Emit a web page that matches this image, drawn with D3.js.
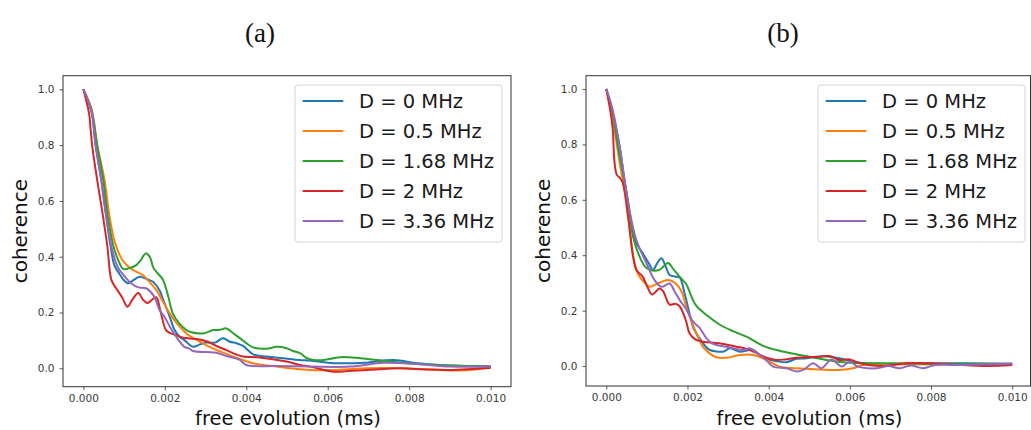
<!DOCTYPE html>
<html>
<head>
<meta charset="utf-8">
<script src="https://cdn.jsdelivr.net/npm/d3@7/dist/d3.min.js"></script>
<style>
  html, body { margin: 0; padding: 0; background: #fff; }
  svg { display: block; }
</style>
</head>
<body>
<svg id="chart" width="1031" height="430"></svg>
<script>
// ---- data (x in units of 0.001 ms) ----
const seriesLabels = ["D = 0 MHz", "D = 0.5 MHz", "D = 1.68 MHz", "D = 2 MHz", "D = 3.36 MHz"];
const seriesColors = ["#1f77b4", "#ff7f0e", "#2ca02c", "#d62728", "#9467bd"];
const panelTitles = ["(a)", "(b)"];
const xTicks = [0, 2, 4, 6, 8, 10];
const xTickLabels = ["0.000", "0.002", "0.004", "0.006", "0.008", "0.010"];
const yTicks = [0, 0.2, 0.4, 0.6, 0.8, 1.0];
const yTickLabels = ["0.0", "0.2", "0.4", "0.6", "0.8", "1.0"];

const aBlue = [[0,1],[0.2,0.92],[0.3,0.80],[0.44,0.675],[0.55,0.556],[0.67,0.436],[0.76,0.37],[0.88,0.34],[1.0,0.315],[1.1,0.305],[1.22,0.315],[1.38,0.328],[1.55,0.32],[1.71,0.31],[1.87,0.28],[1.95,0.25],[2.12,0.185],[2.24,0.137],[2.36,0.113],[2.49,0.10],[2.69,0.077],[2.85,0.085],[3.02,0.092],[3.23,0.092],[3.43,0.108],[3.6,0.095],[3.76,0.09],[3.92,0.08],[4.17,0.05],[4.5,0.042],[4.91,0.036],[5.3,0.03],[5.57,0.028],[6.0,0.02],[6.3,0.018],[6.9,0.02],[7.62,0.03],[8.2,0.018],[9.0,0.01],[10,0.006]];
const aOrange = [[0,1],[0.2,0.93],[0.34,0.80],[0.52,0.675],[0.63,0.556],[0.74,0.47],[0.84,0.424],[0.95,0.39],[1.08,0.368],[1.25,0.35],[1.46,0.334],[1.62,0.31],[1.79,0.281],[1.95,0.24],[2.12,0.197],[2.3,0.16],[2.53,0.125],[2.8,0.10],[3.1,0.077],[3.4,0.058],[3.68,0.042],[4.17,0.018],[4.75,0.006],[5.2,-0.002],[5.57,-0.006],[6.13,-0.006],[6.96,0],[7.78,0],[8.5,-0.004],[9.26,-0.008],[10,0.002]];
const aGreen = [[0,1],[0.2,0.925],[0.34,0.80],[0.49,0.675],[0.59,0.556],[0.74,0.436],[0.85,0.39],[0.95,0.36],[1.01,0.355],[1.15,0.36],[1.3,0.37],[1.42,0.39],[1.53,0.412],[1.63,0.40],[1.72,0.36],[1.8,0.345],[1.95,0.318],[2.08,0.26],[2.2,0.195],[2.36,0.16],[2.53,0.137],[2.61,0.131],[2.94,0.125],[3.19,0.137],[3.35,0.138],[3.51,0.143],[3.64,0.13],[3.84,0.108],[4.0,0.09],[4.17,0.075],[4.5,0.07],[4.75,0.077],[4.99,0.072],[5.15,0.062],[5.32,0.054],[5.49,0.036],[5.65,0.03],[5.9,0.03],[6.3,0.04],[6.8,0.036],[7.37,0.027],[8.19,0.015],[9.0,0.01],[10,0.006]];
const aRed = [[0,1],[0.14,0.914],[0.18,0.854],[0.22,0.794],[0.34,0.675],[0.47,0.556],[0.59,0.436],[0.69,0.316],[0.8,0.288],[0.95,0.255],[1.08,0.221],[1.22,0.25],[1.35,0.27],[1.47,0.245],[1.58,0.234],[1.68,0.245],[1.79,0.255],[1.9,0.2],[2.03,0.137],[2.15,0.125],[2.28,0.119],[2.45,0.11],[2.61,0.107],[2.78,0.105],[3.02,0.097],[3.27,0.08],[3.51,0.065],[3.75,0.05],[3.92,0.042],[4.33,0.039],[4.99,0.024],[5.32,0.012],[5.57,0.006],[6.13,-0.012],[6.5,-0.01],[6.96,-0.006],[7.78,0],[8.4,-0.004],[9.0,-0.006],[10,0.002]];
const aPurple = [[0,1],[0.2,0.92],[0.3,0.80],[0.44,0.675],[0.55,0.556],[0.69,0.436],[0.84,0.364],[1.01,0.33],[1.17,0.305],[1.35,0.29],[1.54,0.287],[1.74,0.257],[1.87,0.209],[1.99,0.185],[2.12,0.15],[2.28,0.113],[2.48,0.077],[2.61,0.07],[2.69,0.062],[3.02,0.058],[3.27,0.056],[3.51,0.044],[3.84,0.03],[4.0,0.012],[4.75,0.008],[5.57,0.006],[6.55,0.006],[7.37,0.02],[8.2,0.015],[9.0,0.006],[10,0.006]];

const bBlue = [[0,1],[0.15,0.92],[0.33,0.79],[0.45,0.67],[0.57,0.56],[0.7,0.455],[0.9,0.407],[1.05,0.37],[1.15,0.347],[1.25,0.37],[1.36,0.389],[1.46,0.36],[1.56,0.329],[1.73,0.322],[1.81,0.32],[1.93,0.262],[2.05,0.19],[2.14,0.14],[2.3,0.1],[2.45,0.07],[2.55,0.058],[2.88,0.052],[3.04,0.064],[3.29,0.052],[3.62,0.058],[3.86,0.03],[4.11,0.02],[4.27,0.016],[4.44,0.014],[4.69,0.026],[4.93,0.028],[5.18,0.034],[5.5,0.034],[5.75,0.028],[6.25,0.012],[6.74,0.008],[8.0,0.01],[8.95,0.01],[10,0.008]];
const bOrange = [[0,1],[0.15,0.9],[0.3,0.76],[0.45,0.63],[0.55,0.52],[0.66,0.40],[0.74,0.35],[0.82,0.322],[0.95,0.3],[1.07,0.286],[1.27,0.298],[1.48,0.31],[1.6,0.308],[1.73,0.295],[1.85,0.27],[1.97,0.214],[2.05,0.18],[2.22,0.118],[2.38,0.07],[2.55,0.045],[2.71,0.032],[2.96,0.03],[3.29,0.04],[3.62,0.04],[3.95,0.022],[4.27,-0.002],[4.69,-0.008],[5.5,-0.014],[5.75,-0.014],[6.08,-0.008],[6.33,0.004],[6.9,0.006],[10,0.006]];
const bGreen = [[0,1],[0.15,0.92],[0.3,0.78],[0.49,0.635],[0.58,0.55],[0.66,0.467],[0.82,0.395],[0.95,0.36],[1.07,0.347],[1.31,0.347],[1.52,0.372],[1.65,0.35],[1.81,0.322],[1.97,0.295],[2.1,0.25],[2.22,0.217],[2.47,0.184],[2.79,0.15],[3.12,0.126],[3.45,0.106],[3.86,0.073],[4.27,0.055],[4.69,0.042],[5.1,0.031],[5.5,0.02],[6.0,0.012],[7.0,0.01],[8.0,0.008],[10,0.008]];
const bRed = [[0,1],[0.1,0.92],[0.16,0.852],[0.2,0.74],[0.26,0.69],[0.33,0.68],[0.41,0.66],[0.53,0.551],[0.66,0.395],[0.74,0.347],[0.9,0.322],[1.0,0.29],[1.13,0.258],[1.31,0.28],[1.4,0.27],[1.56,0.222],[1.7,0.225],[1.81,0.215],[1.97,0.16],[2.05,0.118],[2.2,0.095],[2.38,0.088],[2.79,0.082],[3.2,0.07],[3.45,0.062],[3.62,0.052],[3.95,0.03],[4.19,0.022],[4.4,0.024],[4.69,0.03],[5.26,0.034],[5.5,0.036],[5.75,0.022],[6.0,0.024],[6.25,0.01],[6.74,0],[7.05,0.004],[7.4,0.01],[7.89,0.01],[8.5,0.006],[9.37,0],[10,0.004]];
const bPurple = [[0,1],[0.15,0.93],[0.33,0.792],[0.45,0.671],[0.57,0.563],[0.74,0.455],[0.99,0.371],[1.19,0.31],[1.36,0.286],[1.56,0.298],[1.68,0.27],[1.81,0.238],[1.97,0.205],[2.14,0.16],[2.3,0.138],[2.47,0.1],[2.63,0.08],[2.96,0.07],[3.37,0.058],[3.53,0.064],[3.78,0.04],[3.95,0.02],[4.11,-0.002],[4.44,-0.008],[4.69,-0.02],[4.85,-0.014],[5.1,0.01],[5.3,-0.008],[5.55,0.024],[5.8,-0.002],[6.0,0.016],[6.2,-0.002],[6.66,-0.008],[6.95,0],[7.23,-0.008],[7.5,0.002],[7.81,-0.008],[8.1,0.004],[8.6,0.004],[9.2,0.006],[10,0.008]];

const panelSeries = [
  [aBlue, aOrange, aGreen, aRed, aPurple],
  [bBlue, bOrange, bGreen, bRed, bPurple]
];

// ---- layout ----
const panels = [
  { left: 63,  right: 511,    top: 75.7, bottom: 386.7, yDom: [-0.066, 1.049], titleX: 260 },
  { left: 586, right: 1032.5, top: 75.7, bottom: 386,   yDom: [-0.072, 1.048], titleX: 783 }
];

const svg = d3.select("#chart");
const tickFont = "DejaVu Sans, sans-serif";

panels.forEach((p, pi) => {
  const x = d3.scaleLinear().domain([-0.5, 10.5]).range([p.left, p.right]);
  const y = d3.scaleLinear().domain(p.yDom).range([p.bottom, p.top]);
  const g = svg.append("g");

  // title
  g.append("text")
    .attr("x", p.titleX).attr("y", 42)
    .attr("text-anchor", "middle")
    .style("font-family", "'Liberation Serif', serif")
    .style("font-size", "27px")
    .style("fill", "#111")
    .text(panelTitles[pi]);

  // clip
  const clipId = "clip" + pi;
  svg.append("clipPath").attr("id", clipId)
    .append("rect").attr("x", p.left).attr("y", p.top)
    .attr("width", p.right - p.left).attr("height", p.bottom - p.top);

  // lines
  const line = d3.line().x(d => x(d[0])).y(d => y(d[1])).curve(d3.curveCatmullRom.alpha(0.5));
  const lg = g.append("g").attr("clip-path", `url(#${clipId})`);
  panelSeries[pi].forEach((s, si) => {
    lg.append("path").datum(s)
      .attr("d", line)
      .attr("fill", "none")
      .attr("stroke", seriesColors[si])
      .attr("stroke-width", 2)
      .attr("stroke-linejoin", "round");
  });

  // axes
  const xAxis = d3.axisBottom(x).tickValues(xTicks)
    .tickFormat((d, i) => xTickLabels[i]).tickSizeOuter(0).tickSize(3.5).tickPadding(4);
  const yAxis = d3.axisLeft(y).tickValues(yTicks)
    .tickFormat((d, i) => yTickLabels[i]).tickSizeOuter(0).tickSize(3.5).tickPadding(5);

  const xa = g.append("g").attr("transform", `translate(0,${p.bottom})`).call(xAxis);
  const ya = g.append("g").attr("transform", `translate(${p.left},0)`).call(yAxis);
  [xa, ya].forEach(a => {
    a.select(".domain").remove();
    a.selectAll("line").attr("stroke", "#333").attr("stroke-width", 0.8);
    a.selectAll("text").style("font-family", tickFont).style("font-size", "10.5px").style("fill", "#3a3a3a");
  });

  // frame
  const rightEdge = Math.min(p.right, 1030.5);
  g.append("rect")
    .attr("x", p.left).attr("y", p.top)
    .attr("width", rightEdge - p.left).attr("height", p.bottom - p.top)
    .attr("fill", "none").attr("stroke", "#333").attr("stroke-width", 1);

  // axis labels
  g.append("text")
    .attr("x", (p.left + Math.min(p.right, 1031)) / 2 + 1).attr("y", 425)
    .attr("text-anchor", "middle")
    .style("font-family", tickFont).style("font-size", "19.5px").style("fill", "#111")
    .text("free evolution (ms)");
  g.append("text")
    .attr("transform", `translate(${p.left - 36},${(p.top + p.bottom) / 2}) rotate(-90)`)
    .attr("text-anchor", "middle")
    .style("font-family", tickFont).style("font-size", "20px").style("fill", "#111")
    .text("coherence");

  // legend
  const lx = p.left + 232, ly = p.top + 9.3;
  const leg = g.append("g");
  leg.append("rect")
    .attr("x", lx).attr("y", ly).attr("width", 207).attr("height", 157)
    .attr("rx", 3).attr("fill", "#fff").attr("fill-opacity", 0.85)
    .attr("stroke", "#d6d6d6").attr("stroke-width", 1);
  seriesLabels.forEach((lab, i) => {
    const ry = ly + 16 + i * 30;
    leg.append("line")
      .attr("x1", lx + 7.7).attr("x2", lx + 48.3)
      .attr("y1", ry).attr("y2", ry)
      .attr("stroke", seriesColors[i]).attr("stroke-width", 2);
    leg.append("text")
      .attr("x", lx + 64).attr("y", ry).attr("dy", "0.35em")
      .style("font-family", tickFont).style("font-size", "19.5px").style("fill", "#1a1a1a")
      .text(lab);
  });
});
</script>
</body>
</html>
